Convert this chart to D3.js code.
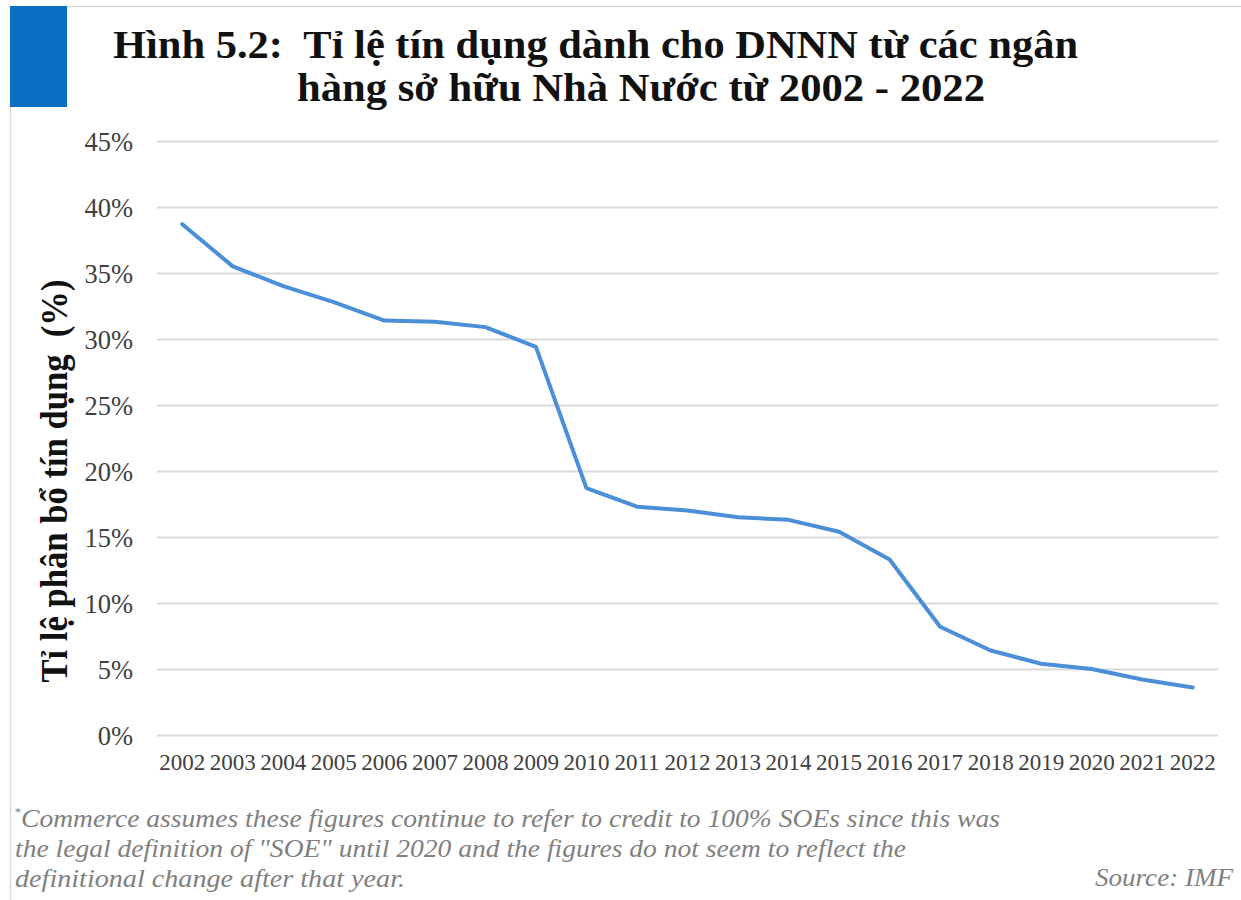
<!DOCTYPE html>
<html><head><meta charset="utf-8">
<script src="https://cdn.jsdelivr.net/npm/d3@7"></script>
<style>body{margin:0;background:#fff}svg{display:block}</style>
</head><body>
<svg id="c" width="1241" height="900"></svg>
<script>
const years = ["2002","2003","2004","2005","2006","2007","2008","2009","2010","2011","2012","2013","2014","2015","2016","2017","2018","2019","2020","2021","2022"];
const shares = [38.7,35.5,34.0,32.8,31.4,31.3,30.9,29.4,18.7,17.3,17.0,16.5,16.3,15.4,13.3,8.2,6.4,5.4,5.0,4.2,3.6];
const yTicks = [0,5,10,15,20,25,30,35,40,45];
const titleLines = ["Hình 5.2:  Tỉ lệ tín dụng dành cho DNNN từ các ngân","hàng sở hữu Nhà Nước từ 2002 - 2022"];
const yLabel = "Tỉ lệ phân bổ tín dụng  (%)";
const noteLines = ["Commerce assumes these figures continue to refer to credit to 100% SOEs since this was","the legal definition of \"SOE\" until 2020 and the figures do not seem to reflect the","definitional change after that year."];
const sourceText = "Source: IMF";

const svg = d3.select("#c");
const serif = "'Liberation Serif','Times New Roman',serif";

// frame
svg.append("line").attr("x1",10).attr("x2",1241).attr("y1",6.5).attr("y2",6.5).attr("stroke","#d9d9d9").attr("stroke-width",1.5);
svg.append("line").attr("x1",10.5).attr("x2",10.5).attr("y1",6).attr("y2",900).attr("stroke","#d9d9d9").attr("stroke-width",1.5);
svg.append("rect").attr("x",10).attr("y",6).attr("width",57).attr("height",101).attr("fill","#0a6fc2");

// title
svg.append("text").attr("x",113).attr("y",58).attr("font-family",serif).attr("font-weight","bold")
  .attr("font-size",39).attr("fill","#111").attr("xml:space","preserve")
  .attr("textLength",965).attr("lengthAdjust","spacingAndGlyphs").text(titleLines[0]);
svg.append("text").attr("x",297).attr("y",101).attr("font-family",serif).attr("font-weight","bold")
  .attr("font-size",39).attr("fill","#111")
  .attr("textLength",688).attr("lengthAdjust","spacingAndGlyphs").text(titleLines[1]);

const x = d3.scaleBand().domain(years).range([157,1218]);
const y = d3.scaleLinear().domain([0,45]).range([735,141]);

// grid
const gy = svg.append("g").attr("transform","translate(157,0)")
  .call(d3.axisLeft(y).tickValues(yTicks).tickSize(-1061).tickFormat(d=>d+"%"));
gy.select(".domain").remove();
gy.selectAll(".tick line").attr("stroke","#d9d9d9").attr("stroke-width",2);
gy.selectAll(".tick text").attr("x",-24).attr("dy","0.36em").attr("font-family",serif).attr("font-size",26.5).attr("fill","#404040");

const gx = svg.append("g").attr("transform","translate(0,735)")
  .call(d3.axisBottom(x).tickSize(0));
gx.select(".domain").remove();
gx.selectAll(".tick text").attr("dy",0).attr("y",35).attr("font-family",serif).attr("font-size",23).attr("fill","#404040");

// line
const line = d3.line().x((d,i)=>x(years[i])+x.bandwidth()/2).y(d=>y(d));
svg.append("path").datum(shares).attr("d",line).attr("fill","none")
  .attr("stroke","#4a8fd8").attr("stroke-width",4).attr("stroke-linejoin","round").attr("stroke-linecap","round");

// y label
svg.append("text").attr("transform","translate(67,481) rotate(-90)").attr("text-anchor","middle")
  .attr("font-family",serif).attr("font-weight","bold").attr("font-size",37).attr("fill","#111")
  .attr("xml:space","preserve").attr("textLength",403).attr("lengthAdjust","spacingAndGlyphs").text(yLabel);

// footnote
const note = svg.append("g").attr("font-family",serif).attr("font-style","italic").attr("font-size",25.5).attr("fill","#808080");
note.append("text").attr("x",14).attr("y",816).attr("font-size",13).text("*");
const noteEnds = [1000, 906, 405];
noteLines.forEach((t,i)=>{
  const x0 = i===0?21:15;
  note.append("text").attr("x", x0).attr("y",827+i*30)
    .attr("textLength",noteEnds[i]-x0).attr("lengthAdjust","spacingAndGlyphs").text(t);
});
note.append("text").attr("x",1095).attr("y",886).attr("textLength",138).attr("lengthAdjust","spacingAndGlyphs").text(sourceText);
</script>
</body></html>
